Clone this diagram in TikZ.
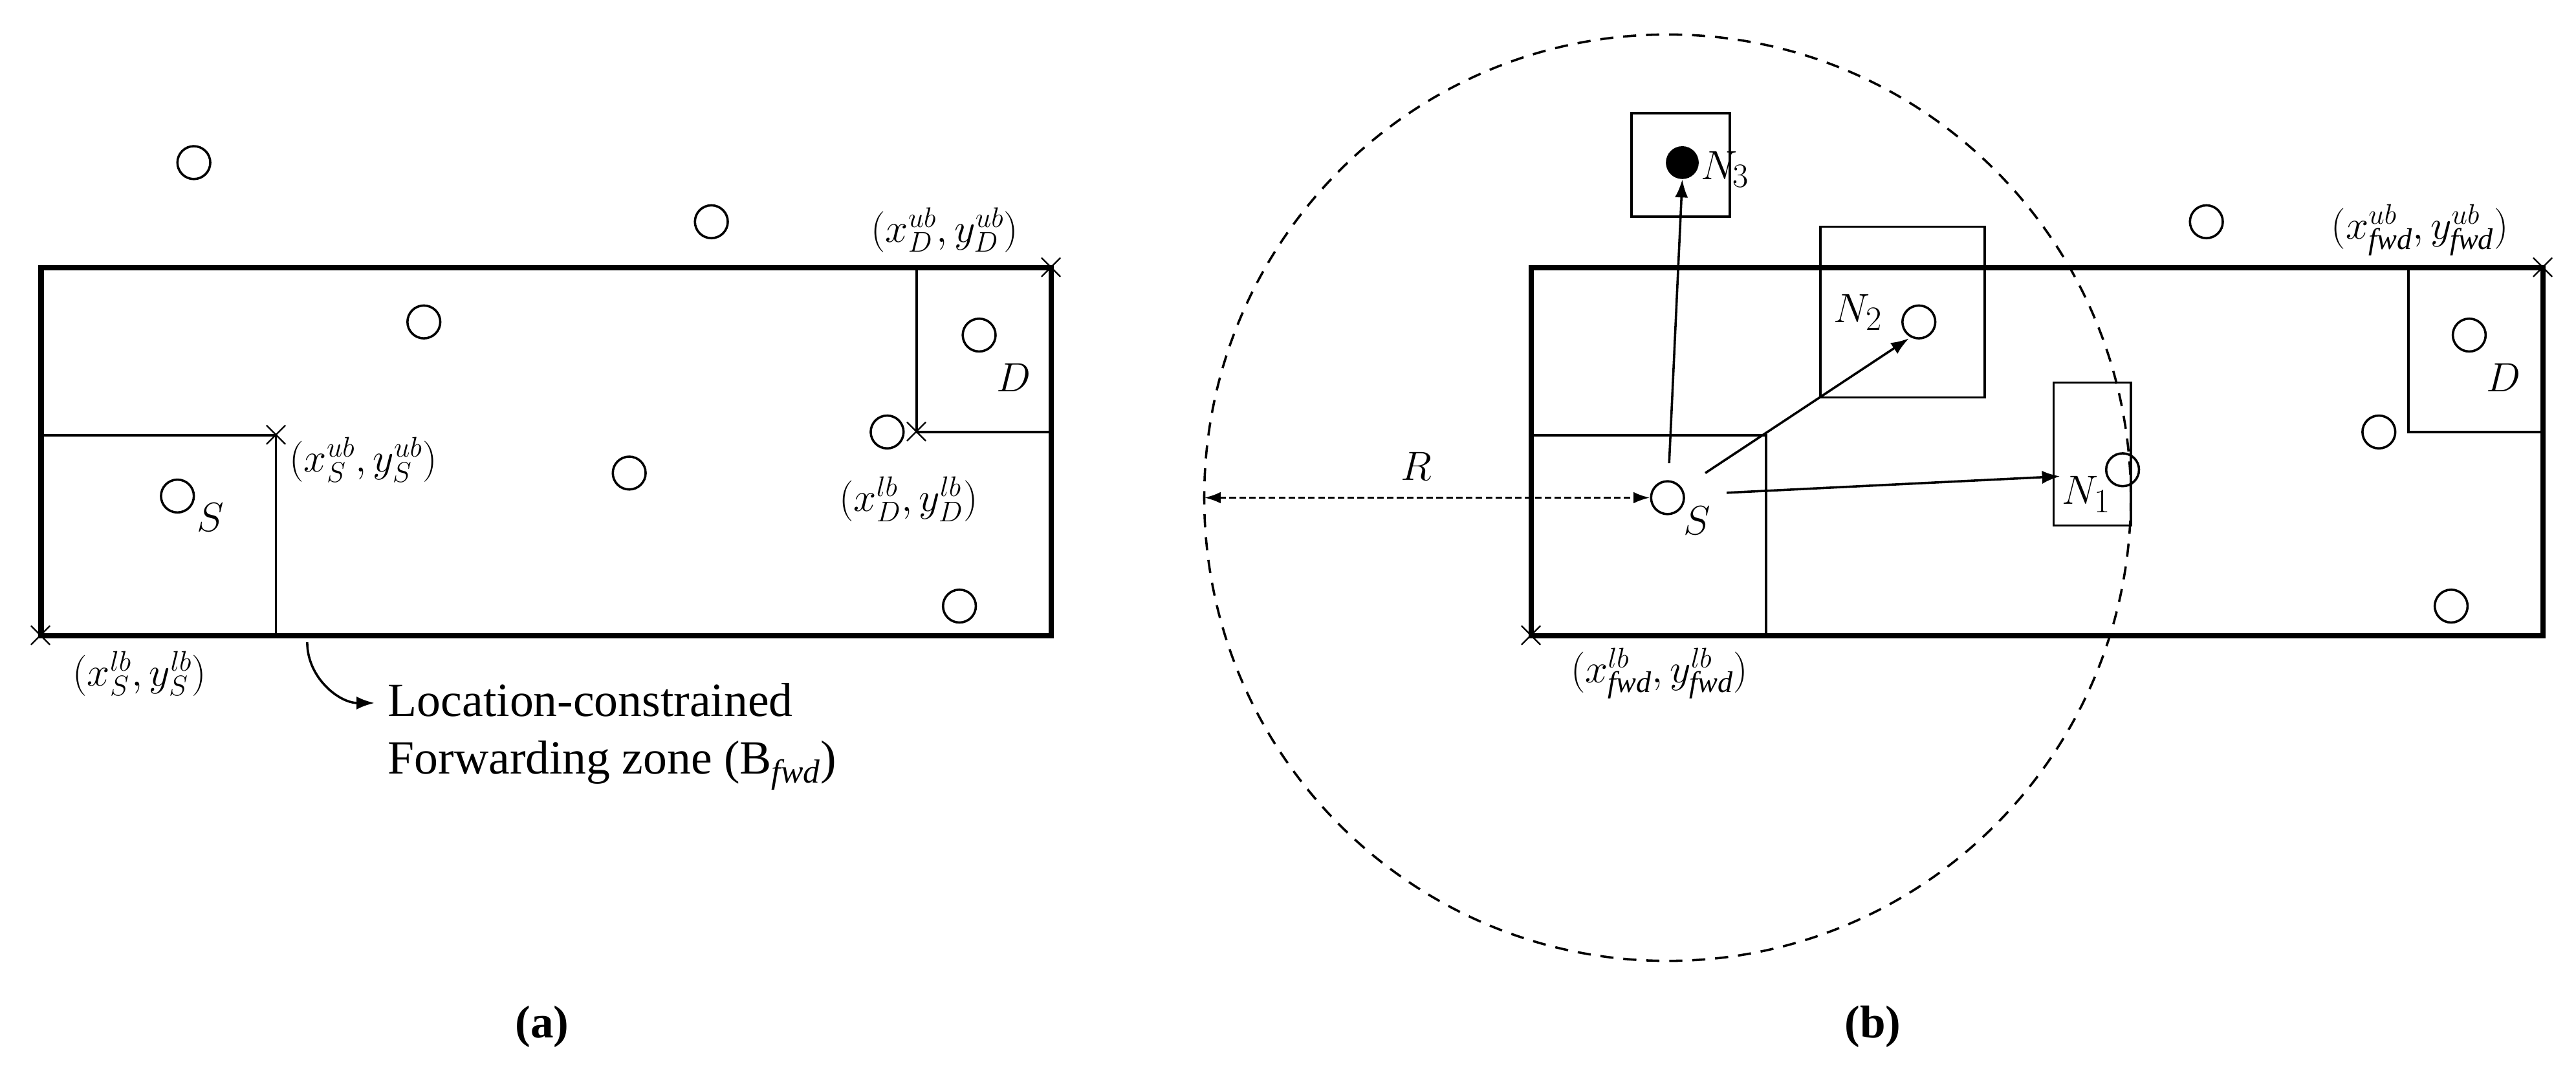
\documentclass[tikz,border=0pt]{standalone}
\usepackage{fontspec}
\setmainfont{Liberation Serif}
\usetikzlibrary{arrows.meta}
\begin{document}
\begin{tikzpicture}[x=1pt,y=-1pt,
  thk/.style={line width=3.2pt},
  thn/.style={line width=1.4pt},
  nd/.style={circle,draw,line width=1.4pt,minimum size=20pt,inner sep=0pt},
  cr/.style={font=\fontsize{30}{30}\selectfont,inner sep=0pt},
  lab/.style={font=\fontsize{26}{26}\selectfont,inner sep=0pt},
  arr/.style={line width=1.4pt,-{Latex[length=11pt,width=8pt]}}]
\useasboundingbox (0,0) rectangle (1568,653);
% ---------- (a)
\draw[thn] (25,265) -- (168,265) -- (168,387);
\draw[thn] (558,163) -- (558,263) -- (640,263);
\draw[thk] (25,163) rectangle (640,387);
\foreach \p/\n in {{(25,387)}/c1,{(168,265)}/c2,{(558,263)}/c3,{(640,163)}/c4}
  \node[cr] (\n) at \p {$\times$};
\foreach \p/\n in {{(118,99)}/a1,{(433,135)}/a2,{(258,196)}/a3,{(596,204)}/a4,{(540,263)}/a5,{(383,288)}/a6,{(108,302)}/aS,{(584,369)}/a8}
  \node[nd] (\n) at \p {};
\node[lab,font=\fontsize{30}{30}\selectfont] (lS) at (128,315) {$S$};
\node[lab,font=\fontsize{30}{30}\selectfont] (lD) at (617,230) {$D$};
\node[lab] (t1) at (575,140) {$(x_D^{ub},y_D^{ub})$};
\node[lab,anchor=west] (t2) at (176,280) {$(x_S^{ub},y_S^{ub})$};
\node[lab] (t3) at (553,304) {$(x_D^{lb},y_D^{lb})$};
\node[lab] (t4) at (85,410) {$(x_S^{lb},y_S^{lb})$};
\node[font=\fontsize{29}{29}\selectfont,anchor=west,inner sep=0pt] (z1) at (236,426) {Location-constrained};
\node[font=\fontsize{29}{29}\selectfont,anchor=west,inner sep=0pt] (z2) at (236,466) {Forwarding zone (B$_{\mathit{fwd}}$)};
\coordinate (z0) at (187,391);
\draw[arr] (z0) to[out=-90,in=180] (228,428);
\node[font=\fontsize{28}{28}\selectfont\bfseries] (ca) at (330,625) {(a)};
% ---------- (b)
\draw[thn,dashed,dash pattern=on 8pt off 6pt] (1015,303) circle (282);
\draw[thn] (932,265) -- (1075,265) -- (1075,387);
\draw[thn] (1466,163) -- (1466,263) -- (1548,263);
\draw[thk] (932,163) rectangle (1548,387);
\node[cr] (c5) at (932,387) {$\times$};
\node[cr] (c6) at (1548,163) {$\times$};
\draw[thn] (993,69) rectangle (1053,132);
\draw[thn] (1108,138) rectangle (1208,242);
\draw[thn] (1250,233) rectangle (1297,320);
\node[circle,fill,minimum size=20pt,inner sep=0pt] (n3) at (1024,99) {};
\node[nd] (n2) at (1168,196) {};
\node[nd] (n1) at (1292,286) {};
\node[nd] (s) at (1015,303) {};
\foreach \p/\n in {{(1343,135)}/b1,{(1503,204)}/b2,{(1448,263)}/b3,{(1492,369)}/b4}
  \node[nd] (\n) at \p {};
\node[lab,font=\fontsize{30}{30}\selectfont] (lN3) at (1050,103) {$N_3$};
\node[lab,font=\fontsize{30}{30}\selectfont] (lN2) at (1131,190) {$N_2$};
\node[lab,font=\fontsize{30}{30}\selectfont] (lN1) at (1270,301) {$N_1$};
\node[lab,font=\fontsize{30}{30}\selectfont] (lS2) at (1033,317) {$S$};
\node[lab,font=\fontsize{30}{30}\selectfont] (lD2) at (1524,230) {$D$};
\node[lab] (t5) at (1473,140) {$(x_{\mathit{fwd}}^{ub},y_{\mathit{fwd}}^{ub})$};
\node[lab] (t6) at (1010,410) {$(x_{\mathit{fwd}}^{lb},y_{\mathit{fwd}}^{lb})$};
\node[lab,font=\fontsize{30}{30}\selectfont] (lR) at (862,284) {$R$};
\coordinate (e) at (733,303);
\draw[line width=1.4pt,dash pattern=on 4pt off 2pt,{Latex[length=10pt,width=7pt]}-{Latex[length=10pt,width=7pt]}] (e) -- (s.west);
\draw[arr] (1016,282) -- (n3.south);
\draw[arr] (1038,288) -- (1162,206);
\draw[arr] (1051,300) -- (1254,290);
\node[font=\fontsize{28}{28}\selectfont\bfseries] (cb) at (1140,625) {(b)};
\end{tikzpicture}
\end{document}
